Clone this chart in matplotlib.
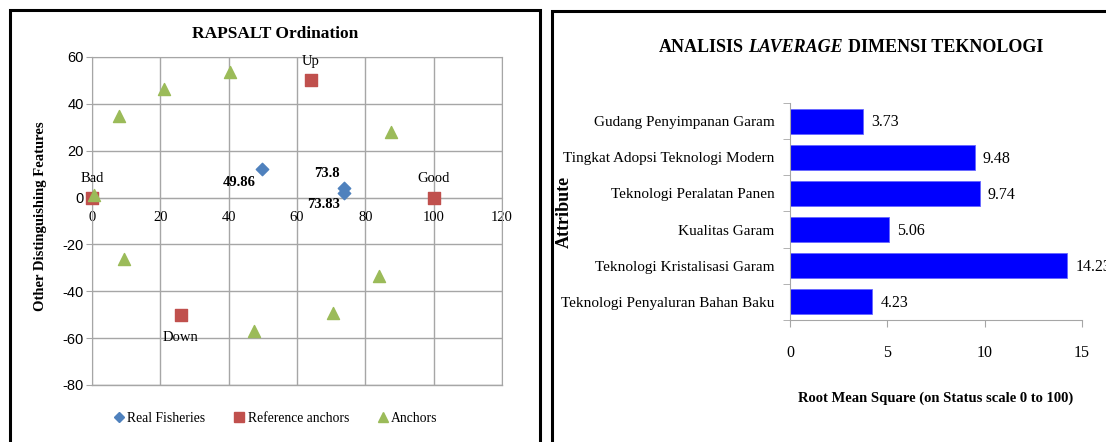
import matplotlib
matplotlib.use("Agg")
import matplotlib.pyplot as plt
from matplotlib.patches import Rectangle
from matplotlib.lines import Line2D

plt.rcParams["axes.unicode_minus"] = False

# ---------------- data ----------------
real_x = [49.86, 73.8, 73.83]
real_y = [12.2, 4.1, 2.0]
real_labels = ["49.86", "73.8", "73.83"]

ref_x = [0, 100, 64, 26]
ref_y = [0, 0, 50, -50]
ref_labels = ["Bad", "Good", "Up", "Down"]

anc_x = [0.6, 7.9, 21.2, 40.5, 87.6, 9.5, 83.9, 70.5, 47.5]
anc_y = [1.3, 35.0, 46.3, 53.4, 27.8, -26.4, -33.5, -49.1, -57.0]

x_ticks = [0, 20, 40, 60, 80, 100, 120]
y_ticks = [60, 40, 20, 0, -20, -40, -60, -80]

attributes = ["Gudang Penyimpanan Garam", "Tingkat Adopsi Teknologi Modern",
              "Teknologi Peralatan Panen", "Kualitas Garam",
              "Teknologi Kristalisasi Garam", "Teknologi Penyaluran Bahan Baku"]
rms = [3.73, 9.48, 9.74, 5.06, 14.23, 4.23]
rms_ticks = [0, 5, 10, 15]

SERIF = "Liberation Serif"
SANS = "Liberation Sans"
GRID = "#A6A6A6"

fig = plt.figure(figsize=(11.06, 4.42), dpi=100)
W, H = 1106, 442

def fx(px):
    return px / W

def fy(py):
    return 1 - py / H

# panel borders
fig.patches.append(Rectangle((fx(10), fy(500)), fx(540) - fx(10), fy(10) - fy(500),
                             transform=fig.transFigure, fill=False, lw=2.2, ec="black"))
fig.patches.append(Rectangle((fx(552), fy(500)), fx(1200) - fx(552), fy(11) - fy(500),
                             transform=fig.transFigure, fill=False, lw=2.2, ec="black"))

# ---------------- left: RAPSALT ordination ----------------
ax = fig.add_axes([fx(92), fy(385), fx(502) - fx(92), fy(57) - fy(385)])
ax.set_xlim(0, 120)
ax.set_ylim(-80, 60)
ax.set_xticks(x_ticks)
ax.set_yticks(y_ticks)
ax.grid(True, color=GRID, lw=1.0)
ax.set_axisbelow(True)
for s in ["top", "right", "left"]:
    ax.spines[s].set_color(GRID)
ax.spines["bottom"].set_position(("data", 0))
ax.spines["bottom"].set_color(GRID)
ax.axhline(-80, color=GRID, lw=1.0, clip_on=False, zorder=0)
ax.tick_params(axis="x", length=0, pad=10, labelsize=10.5)
ax.tick_params(axis="y", length=4, color=GRID, pad=2, labelsize=10.5)
for lab in ax.get_xticklabels():
    lab.set_fontfamily(SERIF)
for lab in ax.get_yticklabels():
    lab.set_fontfamily(SANS)

ax.scatter(real_x, real_y, marker="D", s=40, color="#4F81BD", zorder=3, clip_on=False)
ax.scatter(ref_x, ref_y, marker="s", s=80, color="#C0504D", zorder=3, clip_on=False)
ax.scatter(anc_x, anc_y, marker="^", s=75, color="#9BBB59", zorder=4, clip_on=False)

ref_offsets = [9, 9, 9, -12]
for x, y, t, dy in zip(ref_x, ref_y, ref_labels, ref_offsets):
    ax.annotate(t, (x, y), xytext=(0, dy), textcoords="offset points",
                ha="center", va="bottom" if dy > 0 else "top",
                fontsize=10.5, family=SERIF)

real_offsets = [(-5, -5), (-3, 6), (-3, -4)]
for x, y, t, (dx, dy) in zip(real_x, real_y, real_labels, real_offsets):
    ax.annotate(t, (x, y), xytext=(dx, dy), textcoords="offset points",
                ha="right", va="top" if dy < 0 else "bottom",
                fontsize=10.5, family=SERIF, fontweight="bold")

fig.text(fx(275), fy(34), "RAPSALT Ordination", ha="center", va="center",
         fontsize=12.5, family=SERIF, fontweight="bold")
fig.text(fx(41), fy(216), "Other Distinguishing Features", rotation=90,
         ha="center", va="center", fontsize=10.5, family=SERIF, fontweight="bold")

handles = [Line2D([], [], marker="D", ls="", color="#4F81BD", markersize=5),
           Line2D([], [], marker="s", ls="", color="#C0504D", markersize=7),
           Line2D([], [], marker="^", ls="", color="#9BBB59", markersize=7)]
fig.legend(handles, ["Real Fisheries", "Reference anchors", "Anchors"],
           loc="center", bbox_to_anchor=(fx(275), fy(418)), ncol=3, frameon=False,
           prop={"family": SERIF, "size": 9.8}, handletextpad=0.1, columnspacing=2.0,
           handlelength=1.0)

# ---------------- right: leverage ----------------
bx = fig.add_axes([fx(790), fy(320), fx(1082) - fx(790), fy(103) - fy(320)])
ypos = list(range(len(attributes)))[::-1]
bx.barh(ypos, rms, height=0.69, color="#0000FF", edgecolor="#6666FF", lw=0.6)
bx.set_xlim(0, 15)
bx.set_ylim(-0.5, len(attributes) - 0.5)
bx.set_xticks(rms_ticks)
bx.set_yticks(ypos)
bx.set_yticklabels(attributes, family=SERIF, fontsize=11)
bx.set_yticks([i - 0.5 for i in range(len(attributes) + 1)], minor=True)
bx.tick_params(axis="y", which="major", length=0, pad=11)
bx.tick_params(axis="y", which="minor", length=5, color=GRID)
bx.tick_params(axis="x", length=5, color=GRID, pad=13, labelsize=11.5)
for lab in bx.get_xticklabels():
    lab.set_fontfamily(SERIF)
for s in ["top", "right"]:
    bx.spines[s].set_visible(False)
for s in ["left", "bottom"]:
    bx.spines[s].set_color(GRID)
for y, v in zip(ypos, rms):
    bx.annotate(f"{v:.2f}", (v, y), xytext=(6, -1), textcoords="offset points",
                ha="left", va="center", fontsize=11.5, family=SERIF,
                annotation_clip=False)

bx.set_xlabel("Root Mean Square (on Status scale 0 to 100)", family=SERIF,
              fontweight="bold", fontsize=10.5, labelpad=22)
fig.text(fx(564), fy(212), "Attribute", rotation=90, ha="center", va="center",
         family=SERIF, fontweight="bold", fontsize=13)

# title with italic word, laid out by measured widths
fs = 13
t1 = fig.text(0, fy(48), "ANALISIS", ha="left", va="center", family=SERIF,
              fontweight="bold", fontsize=fs)
t2 = fig.text(0, fy(48), "LAVERAGE", ha="left", va="center", family=SERIF,
              fontweight="bold", fontstyle="italic", fontsize=fs)
t3 = fig.text(0, fy(48), "DIMENSI TEKNOLOGI", ha="left", va="center", family=SERIF,
              fontweight="bold", fontsize=fs)
r = fig.canvas.get_renderer()
w1 = t1.get_window_extent(r).width
w2 = t2.get_window_extent(r).width
w3 = t3.get_window_extent(r).width
sp = 5
total = w1 + w2 + w3 + 2 * sp
x0 = 851 - total / 2
t1.set_x(fx(x0))
t2.set_x(fx(x0 + w1 + sp))
t3.set_x(fx(x0 + w1 + w2 + 2 * sp))

fig.savefig("out.png", dpi=100)
